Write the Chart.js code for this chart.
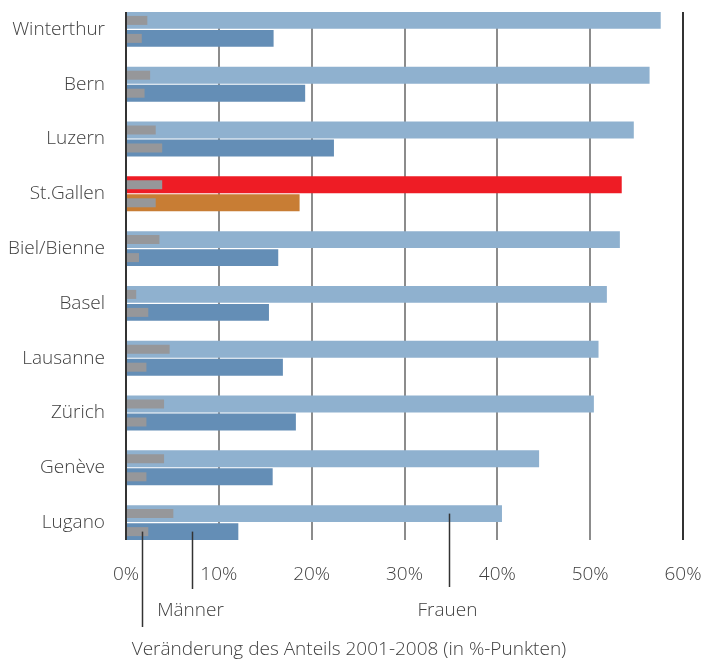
<!DOCTYPE html>
<html>
<head>
<meta charset="utf-8">
<script src="https://cdn.jsdelivr.net/npm/chart.js@4/dist/chart.umd.min.js"></script>
<style>
  html, body { margin: 0; padding: 0; background: #fff; }
  #wrap { width: 703px; height: 663px; }
</style>
</head>
<body>
<div id="wrap"><canvas id="chart" width="703" height="663"></canvas></div>
<script>
// Städte (oben nach unten)
const cities = ['Winterthur', 'Bern', 'Luzern', 'St.Gallen', 'Biel/Bienne', 'Basel', 'Lausanne', 'Zürich', 'Genève', 'Lugano'];
// Anteil Frauen / Männer 2008 (%)
const frauen = [57.6, 56.4, 54.7, 53.4, 53.2, 51.8, 50.9, 50.4, 44.5, 40.5];
const maenner = [15.9, 19.3, 22.4, 18.7, 16.4, 15.4, 16.9, 18.3, 15.8, 12.1];
// Veränderung 2001-2008 (%-Punkte)
const diffFrauen = [2.3, 2.6, 3.2, 3.9, 3.6, 1.1, 4.7, 4.1, 4.1, 5.1];
const diffMaenner = [1.7, 2.0, 3.9, 3.2, 1.4, 2.4, 2.2, 2.2, 2.2, 2.4];
const xTicks = [0, 10, 20, 30, 40, 50, 60];
const caption = 'Veränderung des Anteils 2001-2008 (in %-Punkten)';

const highlight = 'St.Gallen';
const FONT = "'Open Sans', sans-serif";
const TEXT = '#404040';

const colF = cities.map(c => c === highlight ? '#ee1c25' : '#8fb1cf');
const colM = cities.map(c => c === highlight ? '#c87d34' : '#648eb6');

function barSpan(chart) {
  const first = chart.getDatasetMeta(2).data[0];
  const last = chart.getDatasetMeta(3).data[cities.length - 1];
  return [first.y - first.height / 2, last.y + last.height / 2];
}

// Gitterlinien nur über die Höhe der Balken
const gridPlugin = {
  id: 'gridLines',
  beforeDatasetsDraw(chart) {
    const { ctx } = chart;
    const x = chart.scales.x;
    const [top, bottom] = barSpan(chart);
    ctx.save();
    xTicks.forEach(v => {
      const px = Math.round(x.getPixelForValue(v));
      ctx.strokeStyle = (v === 0 || v === 60) ? '#333' : '#8c8c8c';
      ctx.lineWidth = 2;
      ctx.beginPath();
      ctx.moveTo(px, top);
      ctx.lineTo(px, bottom);
      ctx.stroke();
    });
    ctx.restore();
  },
  afterDatasetsDraw(chart) {
    const { ctx } = chart;
    const [top, bottom] = barSpan(chart);
    const px = Math.round(chart.scales.x.getPixelForValue(0));
    ctx.save();
    ctx.strokeStyle = '#333';
    ctx.lineWidth = 2;
    ctx.beginPath();
    ctx.moveTo(px, top);
    ctx.lineTo(px, bottom);
    ctx.stroke();
    ctx.restore();
  }
};

// Beschriftung mit Hinweislinien (Lugano)
const notes = [
  { ds: 3, at: 1.7, end: 627, label: null },
  { ds: 3, at: 7.1, end: 589, label: 'Männer' },
  { ds: 2, at: 34.8, end: 587, label: 'Frauen' }
];
const notePlugin = {
  id: 'notes',
  afterDraw(chart) {
    const { ctx } = chart;
    const x = chart.scales.x;
    ctx.save();
    ctx.fillStyle = TEXT;
    ctx.font = '300 19px ' + FONT;
    ctx.textAlign = 'center';
    ctx.textBaseline = 'middle';
    notes.forEach(n => {
      const el = chart.getDatasetMeta(n.ds).data[cities.length - 1];
      const px = Math.round(x.getPixelForValue(n.at)) + 0.5;
      ctx.strokeStyle = '#333';
      ctx.lineWidth = 1.5;
      ctx.beginPath();
      ctx.moveTo(px, el.y);
      ctx.lineTo(px, n.end);
      ctx.stroke();
      if (n.label) ctx.fillText(n.label, px - 2, 611);
    });
    // Achsentitel
    ctx.fillText(caption, 349, 650);
    ctx.restore();
  }
};

new Chart(document.getElementById('chart'), {
  type: 'bar',
  data: {
    labels: cities,
    datasets: [
      { label: 'Veränderung Frauen', data: diffFrauen, stack: 'f', backgroundColor: '#96979a', barPercentage: 0.5 },
      { label: 'Veränderung Männer', data: diffMaenner, stack: 'm', backgroundColor: '#96979a', barPercentage: 0.5 },
      { label: 'Frauen', data: frauen, stack: 'f', backgroundColor: colF, barPercentage: 0.94 },
      { label: 'Männer', data: maenner, stack: 'm', backgroundColor: colM, barPercentage: 0.94 }
    ]
  },
  options: {
    indexAxis: 'y',
    responsive: false,
    animation: false,
    categoryPercentage: 0.657,
    layout: { padding: { top: 2, right: 20, left: 0, bottom: 22 } },
    scales: {
      x: {
        min: 0, max: 60, stacked: false,
        afterFit(s) { s.height = 91; s.paddingLeft = 0; s.paddingRight = 0; },
        afterBuildTicks(s) { s.ticks = xTicks.map(v => ({ value: v })); },
        grid: { display: false, drawTicks: false },
        border: { display: false },
        ticks: {
          padding: 13,
          color: TEXT,
          font: { family: FONT, size: 19, weight: 300 },
          callback: v => v + '%'
        }
      },
      y: {
        afterFit(s) { s.width = 126; s.paddingTop = 0; s.paddingBottom = 0; },
        grid: { display: false, drawTicks: false },
        border: { display: false },
        ticks: {
          padding: 21,
          color: TEXT,
          font: { family: FONT, size: 19, weight: 300 }
        }
      }
    },
    plugins: {
      legend: { display: false },
      tooltip: { enabled: false }
    }
  },
  plugins: [gridPlugin, notePlugin]
});
</script>
</body>
</html>
